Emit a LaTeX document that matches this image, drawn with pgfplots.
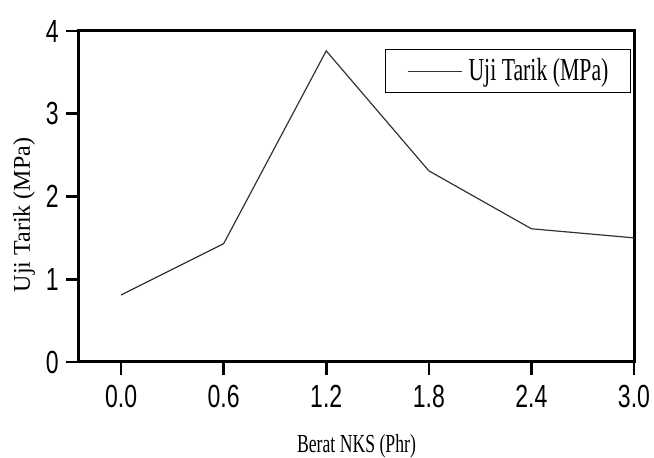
\documentclass[border=0pt]{standalone}
\usepackage{fontspec}
\usepackage{pgfplots}
\usetikzlibrary{calc}
\pgfplotsset{compat=1.18}
\setmainfont{Liberation Serif}[FakeStretch=0.68]
\newfontfamily\tickfont{Liberation Sans}[FakeStretch=0.72]
\newfontfamily\ylabfont{Liberation Serif}
\definecolor{lineGray}{HTML}{333333}
\begin{document}
\begin{tikzpicture}
\begin{axis}[
  scale only axis,
  width=277.5pt, height=165.5pt,
  xmin=-0.246, xmax=3.0, ymin=0, ymax=4,
  xtick={0,0.6,1.2,1.8,2.4,3.0},
  ytick={0,1,2,3,4},
  tick pos=left, tick align=outside,
  major tick length=6.5pt,
  axis line style={line width=1.5pt},
  every tick/.style={line width=1.3pt, black},
  ticklabel style={font=\tickfont\fontsize{16}{16}\selectfont, /pgf/number format/assume math mode=true},
  xticklabel style={inner sep=0pt, yshift=-5pt, /pgf/number format/.cd, fixed, fixed zerofill, precision=1},
  yticklabel style={inner sep=0pt, xshift=-3.5pt},
  xlabel={Berat NKS (Phr)},
  xlabel style={font=\fontsize{13}{13}\selectfont, at={(axis description cs:0.5,0)}, anchor=base, yshift=-45.5pt},
  ylabel={Uji Tarik (MPa)},
  ylabel style={font=\ylabfont\fontsize{12}{12}\selectfont, at={(axis description cs:0,0.444)}, anchor=center, yshift=27.5pt},
  legend style={at={(axis description cs:0.9946,0.9456)}, anchor=north east, draw=black, line width=0.6pt,
    font=\fontsize{16}{16}\selectfont, inner xsep=11pt, inner ysep=4.5pt, nodes={inner sep=0pt}, column sep=3pt},
  legend image code/.code={\draw[#1] (0pt,0pt) -- (27pt,0pt);},
]
\addplot[lineGray, line width=0.6pt] coordinates {(0,0.81)(0.6,1.43)(1.2,3.76)(1.8,2.31)(2.4,1.61)(3.0,1.50)};
\addlegendentry{Uji Tarik (MPa)}
\end{axis}
\pgfresetboundingbox
\path ($(current axis.south west)+(-39.5pt,-48pt)$) rectangle ($(current axis.north east)+(10pt,15.5pt)$);
\end{tikzpicture}
\end{document}
